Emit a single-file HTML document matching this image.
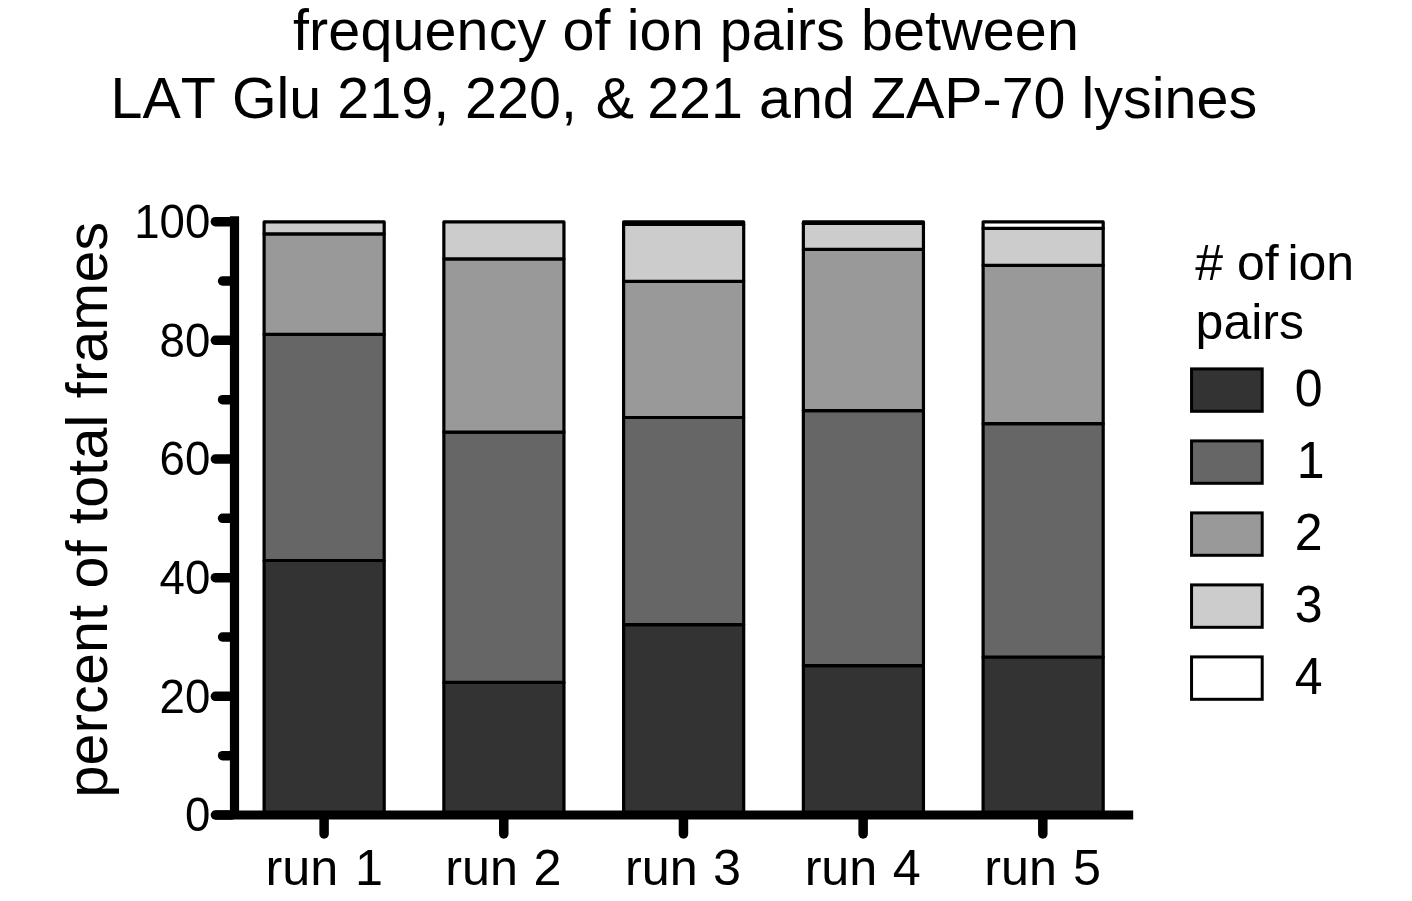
<!DOCTYPE html>
<html lang="en">
<head>
<meta charset="utf-8">
<title>frequency of ion pairs between LAT Glu 219, 220, &amp; 221 and ZAP-70 lysines</title>
<style>
html,body{margin:0;padding:0;background:#ffffff;}
body{width:1412px;height:901px;overflow:hidden;}
svg{display:block;}
text{font-family:"Liberation Sans",sans-serif;fill:#000;font-kerning:none;}
.t{font-size:57.4px;}
.yl{font-size:45.65px;text-anchor:end;}
.xl{font-size:50.3px;}
.lg{font-size:50px;}
</style>
</head>
<body>
<svg width="1412" height="901" viewBox="0 0 1412 901">
<rect x="0" y="0" width="1412" height="901" fill="#ffffff"/>
<text class="t" x="293.0" y="49.7" style="letter-spacing:0.145px">frequency of ion pairs between</text>
<text class="t" y="117.7" style="letter-spacing:0.03px"><tspan x="110.6">LAT Glu 219, 220,</tspan> <tspan x="595.8">&amp;</tspan> <tspan x="647.16">221 and ZAP-70 lysines</tspan></text>
<text class="t" transform="translate(107.2,797.6) rotate(-90)" style="letter-spacing:0.22px">percent of total frames</text>
<g stroke="#000" stroke-width="3.2" stroke-linejoin="round">
<rect x="264.10" y="560.50" width="120.10" height="254.50" fill="#333333"/>
<rect x="264.10" y="334.30" width="120.10" height="226.20" fill="#666666"/>
<rect x="264.10" y="233.80" width="120.10" height="100.50" fill="#999999"/>
<rect x="264.10" y="221.90" width="120.10" height="11.90" fill="#cccccc"/>
<rect x="443.85" y="682.40" width="120.10" height="132.60" fill="#333333"/>
<rect x="443.85" y="432.10" width="120.10" height="250.30" fill="#666666"/>
<rect x="443.85" y="258.80" width="120.10" height="173.30" fill="#999999"/>
<rect x="443.85" y="221.90" width="120.10" height="36.90" fill="#cccccc"/>
<rect x="623.60" y="624.60" width="120.10" height="190.40" fill="#333333"/>
<rect x="623.60" y="417.50" width="120.10" height="207.10" fill="#666666"/>
<rect x="623.60" y="281.30" width="120.10" height="136.20" fill="#999999"/>
<rect x="623.60" y="224.50" width="120.10" height="56.80" fill="#cccccc"/>
<rect x="623.60" y="221.90" width="120.10" height="2.60" fill="#ffffff"/>
<rect x="803.35" y="665.60" width="120.10" height="149.40" fill="#333333"/>
<rect x="803.35" y="410.60" width="120.10" height="255.00" fill="#666666"/>
<rect x="803.35" y="249.40" width="120.10" height="161.20" fill="#999999"/>
<rect x="803.35" y="223.35" width="120.10" height="26.05" fill="#cccccc"/>
<rect x="803.35" y="221.90" width="120.10" height="1.45" fill="#ffffff"/>
<rect x="983.10" y="657.00" width="120.10" height="158.00" fill="#333333"/>
<rect x="983.10" y="423.70" width="120.10" height="233.30" fill="#666666"/>
<rect x="983.10" y="265.40" width="120.10" height="158.30" fill="#999999"/>
<rect x="983.10" y="228.40" width="120.10" height="37.00" fill="#cccccc"/>
<rect x="983.10" y="221.90" width="120.10" height="6.50" fill="#ffffff"/>
</g>
<g stroke="#000" stroke-width="9.2" fill="none">
<line x1="234.5" y1="216.2" x2="234.5" y2="815"/>
<line x1="215.3" y1="815" x2="1133.2" y2="815"/>
</g>
<g stroke="#000" stroke-width="9.5" stroke-linecap="round" fill="none">
<line x1="215.4" y1="815.00" x2="232" y2="815.00"/>
<line x1="222.6" y1="755.67" x2="232" y2="755.67"/>
<line x1="215.4" y1="696.33" x2="232" y2="696.33"/>
<line x1="222.6" y1="637.00" x2="232" y2="637.00"/>
<line x1="215.4" y1="577.66" x2="232" y2="577.66"/>
<line x1="222.6" y1="518.33" x2="232" y2="518.33"/>
<line x1="215.4" y1="459.00" x2="232" y2="459.00"/>
<line x1="222.6" y1="399.66" x2="232" y2="399.66"/>
<line x1="215.4" y1="340.33" x2="232" y2="340.33"/>
<line x1="222.6" y1="280.99" x2="232" y2="280.99"/>
<line x1="215.4" y1="221.66" x2="232" y2="221.66"/>
<line x1="324.10" y1="816" x2="324.10" y2="834.0"/>
<line x1="503.78" y1="816" x2="503.78" y2="834.0"/>
<line x1="683.46" y1="816" x2="683.46" y2="834.0"/>
<line x1="863.14" y1="816" x2="863.14" y2="834.0"/>
<line x1="1042.82" y1="816" x2="1042.82" y2="834.0"/>
</g>
<text class="yl" transform="translate(210.3,831.40) scale(1,1.045)">0</text>
<text class="yl" transform="translate(210.3,712.73) scale(1,1.045)">20</text>
<text class="yl" transform="translate(210.3,594.06) scale(1,1.045)">40</text>
<text class="yl" transform="translate(210.3,475.40) scale(1,1.045)">60</text>
<text class="yl" transform="translate(210.3,356.73) scale(1,1.045)">80</text>
<text class="yl" transform="translate(210.3,238.06) scale(1,1.045)">100</text>
<text class="xl" y="884.6"><tspan x="265.60">run</tspan> <tspan x="355.10">1</tspan></text>
<text class="xl" y="884.6"><tspan x="445.28">run</tspan> <tspan x="533.38">2</tspan></text>
<text class="xl" y="884.6"><tspan x="624.96">run</tspan> <tspan x="713.06">3</tspan></text>
<text class="xl" y="884.6"><tspan x="804.64">run</tspan> <tspan x="892.74">4</tspan></text>
<text class="xl" y="884.6"><tspan x="984.32">run</tspan> <tspan x="1072.92">5</tspan></text>
<text class="lg" y="280.2"><tspan x="1195.3"># of</tspan> <tspan x="1287.4">ion</tspan></text>
<text class="lg" x="1195.6" y="339">pairs</text>
<g stroke="#000" stroke-width="3">
<rect x="1191.55" y="368.90" width="70.65" height="42.4" fill="#333333"/>
<rect x="1191.55" y="440.90" width="70.65" height="42.4" fill="#666666"/>
<rect x="1191.55" y="512.90" width="70.65" height="42.4" fill="#999999"/>
<rect x="1191.55" y="584.90" width="70.65" height="42.4" fill="#cccccc"/>
<rect x="1191.55" y="656.90" width="70.65" height="42.4" fill="#ffffff"/>
</g>
<text class="lg" transform="translate(1294.80,406.40) scale(1,1.03)">0</text>
<text class="lg" transform="translate(1296.80,478.40) scale(1,1.03)">1</text>
<text class="lg" transform="translate(1294.80,550.40) scale(1,1.03)">2</text>
<text class="lg" transform="translate(1294.80,622.40) scale(1,1.03)">3</text>
<text class="lg" transform="translate(1294.80,694.40) scale(1,1.03)">4</text>
</svg>
</body>
</html>
